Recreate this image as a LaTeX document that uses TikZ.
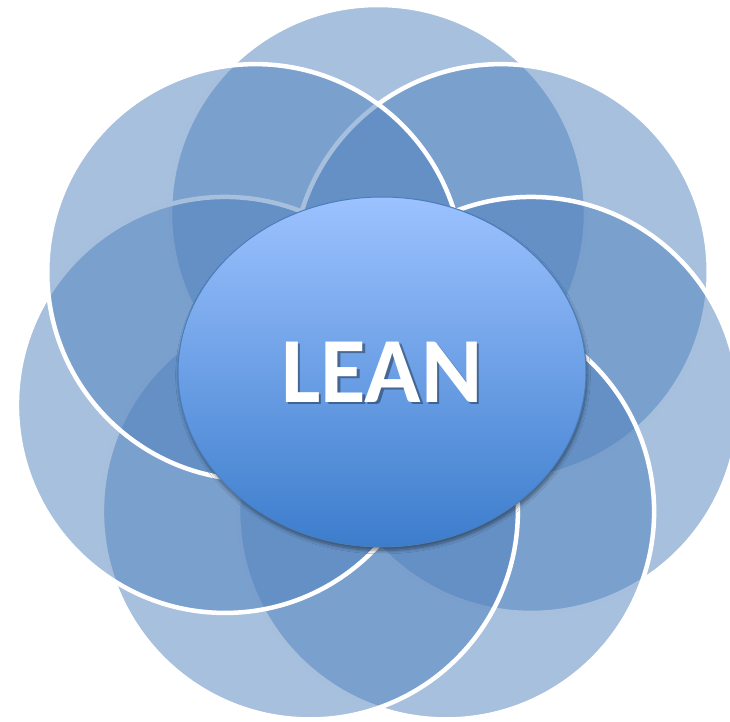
\documentclass[tikz,border=0pt]{standalone}
\usepackage{fontspec}
\setmainfont{Carlito}
\usetikzlibrary{shapes.geometric,shadows.blur}

\begin{document}
\begin{tikzpicture}[
    petal/.style={fill=r79g129b189, fill opacity=0.5, draw=white, line width=0.090cm},
    hub/.style={ellipse, draw=r74g126b187, line width=0.020cm, top color=r156g194b255, bottom color=r60g125b204,
                minimum width=8.160000cm, minimum height=7.000000cm, inner sep=0pt,
                blur shadow={shadow xshift=0.020000cm, shadow yshift=-0.070000cm, shadow blur steps=8, shadow opacity=45}},
    word/.style={inner sep=0pt, font=\fontsize{53}{53}\selectfont\bfseries}
]
% \clip (0,0) rectangle (14.600000,14.420000);
\useasboundingbox (0,0) rectangle (14.600000,14.420000);%

% Changing color 79 129 189
\definecolor{r79g129b189}{rgb}{0.309804,0.505882,0.741176}%
\definecolor{r74g126b187}{rgb}{0.290196,0.494118,0.733333}%
\definecolor{r156g194b255}{rgb}{0.611765,0.760784,1.000000}%
\definecolor{r60g125b204}{rgb}{0.235294,0.490196,0.800000}%

% Drawing circle T (top)
\draw [petal] (7.560000,10.160000) circle (4.160000);%

% Drawing circle B (upper right)
\draw [petal] (10.014950,8.977759) circle (4.160000);%

% Drawing circle C (right)
\draw [petal] (10.621274,6.321284) circle (4.160000);%

% Drawing circle D (lower right)
\draw [petal] (8.922396,4.190957) circle (4.160000);%

% Drawing circle F (lower left)
\draw [petal] (6.197604,4.190957) circle (4.160000);%

% Drawing circle E (left)
\draw [petal] (4.498726,6.321284) circle (4.160000);%

% Drawing circle A (upper left)
\draw [petal] (5.105050,8.977759) circle (4.160000);%

% Drawing ellipse in the middle
\node (hub) [hub] at (7.640000,6.980000) {};%

% Writing LEAN with its shadow
\node (leanshade) [word, text=black, text opacity=0.35] at ([shift={(0.050000,-0.050000)}]hub.center) {LEAN};%
\node (lean) [word, text=white] at (hub.center) {LEAN};%
\end{tikzpicture}
\end{document}
